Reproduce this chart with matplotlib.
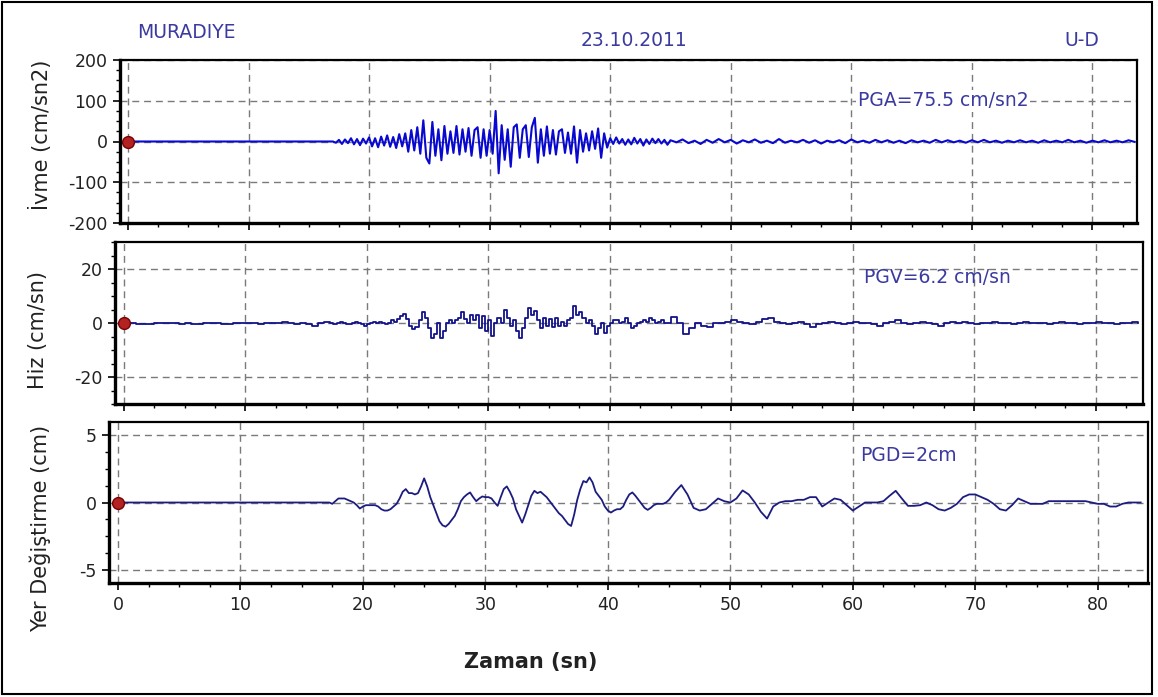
import matplotlib
matplotlib.use("Agg")
import matplotlib.pyplot as plt
import numpy as np
from matplotlib.patches import Rectangle
from matplotlib.ticker import MultipleLocator

# station info
station = "MURADIYE"
date = "23.10.2011"
component = "U-D"

# acceleration (cm/sn2), 17.0-44.75 s every 0.25 s
acc_fine = [0, -3, 4, -6, 5, -4, 8, -7, 6, -9, 7, -5,
            10, -12, 8, -14, 12, -10, 15, -13, 11, -16, 18, -12,
            20, -25, 28, -22, 35, -30, 52, -40, -54, 48, -35, 30,
            -46, 38, -30, 25, -28, 38, -32, 30, -25, 33, -35, 28,
            35, -40, 30, -35, 28, -30, 75, -78, 40, -45, 30, -62,
            35, 42, -40, 30, 40, -38, 35, 58, -52, 30, -35, 37,
            -30, 28, -32, 25, 30, -28, 22, -30, 37, -52, 28, -25,
            20, -22, 25, -18, 32, -40, 20, -15, 8, -6, 10, -5,
            6, -8, 5, -7, 9, -5, 6, -10, 5, -6, 7, -4,
            6, -5, 4, -8]
# acceleration, 45.0-83.5 s every 0.5 s
acc_coarse = [3, -2, 5, -4, 2, -6, 4, -3, 6, -2,
              4, -5, 3, -2, 5, -3, 2, -4, 6, -3,
              2, -2, 4, -3, 3, -5, 2, -2, 3, -4,
              5, -2, 2, -3, 4, -2, 3, -3, 2, -4,
              3, -2, 2, -3, 4, -2, 3, -2, 2, -3,
              3, -2, 4, -2, 2, -3, 2, -2, 3, -2,
              2, -3, 3, -2, 2, -2, 4, -2, 2, -3,
              2, -2, 3, -2, 2, -2, 3, -1]

# velocity (cm/sn), 0-16.5 s every 0.5 s
vel_pre = [0, 0, -0.5, -0.5, -0.5, 0, 0, 0, 0, -0.5,
           0, -0.5, -0.5, 0, 0, 0, -0.5, -0.5, 0, 0,
           0, 0, -0.5, 0, 0, 0, 0.5, 0, -0.5, 0,
           -0.5, -1, 0, 0.5]
vel_fine = [0, -0.5, 0, 0.5, 0, -0.5, -0.5, 0, 0.5, 0, -0.5, -1,
            -0.5, 0, 0.5, 0, 0.5, 0, -0.5, 0, 1, 0.5, 1.5, 2.5,
            3.5, 1.5, -1, -2.4, -1.5, 1, 4.2, 2, -2, -5.5, -4, 0,
            -5.5, -3, 0, 1.2, 0, 1, 2, 3.9, 1.5, 0, 3, 1,
            3, -2, 2.5, -3, 1, -4.8, 0, 2, 0, 4.8, 2, -1,
            1, -3, -5.5, -2, 2, 5.5, 3, 4.5, 1, -2, 2, -1,
            1.5, -1.5, 2, -1, 0.5, -1, 1, 2, 6.3, 3, 4.2, 2,
            0, 1, -1, -4.2, -2, 0, -3.6, -1, 0, 1.2, 1, 0,
            0.5, 1.8, 0, -1.8, -1, 0, 0.5, 1, 0.5, 1.8, 1, 0,
            0.5, 1, 0, 0]
vel_coarse = [2.4, 0, -4.2, -2, 0, -1, -1.5, 0, 0, 0.5, 1.2, 0.5,
              0, -0.5, 0.5, 1.5, 2, 0.5, 0, -0.5, 0, 0.5, -0.5, -1.5,
              -0.5, 0, 0.5, 0, -0.5, 0, 0.5, 0, 0, -0.5, -1, 0,
              0.5, 1, 0, -0.5, 0, 0.5, 0, -0.5, -1, 0, 0.5, 0,
              0.5, 0, -0.5, 0, 0, 0.5, 0, 0, -0.5, 0, 0.5, 0,
              0, 0, -0.5, 0, 0.5, 0, 0, -0.5, 0, 0, 0.5, 0,
              0, -0.5, 0, 0, 0.5, 0]

# displacement (cm)
dis_fine = [0, 0, -0.1, 0.1, 0.3, 0.3, 0.3, 0.2, 0.1, 0, -0.2, -0.45,
            -0.3, -0.2, -0.2, -0.2, -0.2, -0.3, -0.5, -0.6, -0.6, -0.5, -0.3, -0.1,
            0.3, 0.8, 1.0, 0.7, 0.7, 0.6, 0.7, 1.2, 1.8, 1.2, 0.4, -0.2,
            -0.8, -1.4, -1.7, -1.8, -1.6, -1.3, -1.0, -0.5, 0.1, 0.4, 0.6, 0.75,
            0.4, 0.1, 0.3, 0.45, 0.4, 0.4, 0.3, 0.0, -0.25, 0.4, 1.0, 1.2,
            0.8, 0.3, -0.5, -1.0, -1.5, -0.9, -0.2, 0.5, 0.87, 0.7, 0.8, 0.6,
            0.4, 0.1, -0.2, -0.5, -0.8, -1.0, -1.3, -1.6, -1.75, -0.9, 0.2, 1.0,
            1.6, 1.5, 1.87, 1.5, 0.8, 0.5, 0.2, -0.3, -0.6, -0.75, -0.6, -0.5,
            -0.5, -0.3, 0.2, 0.6, 0.75, 0.5, 0.2, -0.1, -0.4, -0.55, -0.4, -0.2,
            -0.1, -0.1, -0.1, 0.0]
dis_coarse = [0.2, 0.8, 1.3, 0.6, -0.4, -0.6, -0.5, -0.1, 0.3, 0.1, 0.0, 0.3,
              0.9, 0.6, 0.0, -0.7, -1.2, -0.3, 0.0, 0.1, 0.1, 0.2, 0.2, 0.4,
              0.4, -0.3, 0.0, 0.3, 0.2, -0.2, -0.6, -0.3, 0.0, 0.0, 0.0, 0.1,
              0.5, 0.87, 0.3, -0.25, -0.25, -0.2, 0.0, -0.2, -0.5, -0.6, -0.4, -0.1,
              0.4, 0.6, 0.6, 0.4, 0.2, -0.1, -0.5, -0.6, -0.2, 0.3, 0.1, -0.1,
              -0.1, -0.1, 0.1, 0.1, 0.1, 0.1, 0.1, 0.1, 0.1, 0.0, -0.1, -0.1,
              -0.3, -0.3, -0.1, 0.0, 0.0, 0.0]

peaks = ["PGA=75.5 cm/sn2", "PGV=6.2 cm/sn", "PGD=2cm"]
ylabels = ["İvme (cm/sn2)", "Hiz (cm/sn)", "Yer Değiştirme (cm)"]

# time axes
t_fine = 17 + 0.25 * np.arange(len(acc_fine))
t_coarse = 45 + 0.5 * np.arange(len(acc_coarse))
t_pre = 0.5 * np.arange(len(vel_pre))

t_acc = np.concatenate([[0], t_fine, t_coarse])
acc = np.concatenate([[0], acc_fine, acc_coarse])
t_vel = np.concatenate([t_pre, t_fine, t_coarse])
vel = np.concatenate([vel_pre, vel_fine, vel_coarse])
t_dis = np.concatenate([[0], t_fine, t_coarse])
dis = np.concatenate([[0], dis_fine, dis_coarse])

plt.rcParams['font.family'] = ['DejaVu Sans']
plt.rcParams['axes.unicode_minus'] = False

W, H = 1158, 697
fig = plt.figure(figsize=(W / 100, H / 100), dpi=100)

def px_axes(left, top, right, bottom):
    return fig.add_axes([left / W, 1 - bottom / H, (right - left) / W, (bottom - top) / H])

ax1 = px_axes(120, 60, 1137, 223)
ax2 = px_axes(115, 242, 1143, 404)
ax3 = px_axes(109, 422, 1148, 583)

ax1.plot(t_acc, acc, color='#0808d0', lw=1.5)
ax2.plot(t_vel, vel, color='#12128a', lw=1.3, drawstyle='steps-post')
ax3.plot(t_dis, dis, color='#1c1c80', lw=1.3)

settings = [
    (ax1, (-0.66, 83.7), (-200, 200), [-200, -100, 0, 100, 200], 25),
    (ax2, (-0.74, 83.9), (-30, 30), [-20, 0, 20], 5),
    (ax3, (-0.73, 84.1), (-6, 6), [-5, 0, 5], 1.25),
]
for ax, xl, yl, yt, ymin in settings:
    ax.set_xlim(*xl)
    ax.set_ylim(*yl)
    ax.set_yticks(yt)
    ax.set_xticks(np.arange(0, 81, 10))
    ax.xaxis.set_minor_locator(MultipleLocator(2.5))
    ax.yaxis.set_minor_locator(MultipleLocator(ymin))
    ax.grid(True, which='major', ls=(0, (5, 3.5)), color='#7a7a7a', lw=1.0)
    ax.set_axisbelow(True)
    ax.tick_params(which='major', direction='out', length=5, width=1.2,
                   labelsize=12.5, labelcolor='#222222', pad=4)
    ax.tick_params(which='minor', direction='out', length=3, width=1.0)
    ax.spines['left'].set_linewidth(2.4)
    ax.spines['bottom'].set_linewidth(2.4)
    ax.spines['top'].set_linewidth(1.6)
    ax.spines['right'].set_linewidth(1.6)
    ax.plot([0], [0], marker='o', ms=8.5, color='#b22222', mec='#7a0000', zorder=5)

ax1.tick_params(labelbottom=False)
ax2.tick_params(labelbottom=False)

# peak value labels
txt_color = '#3a3aa0'
ax1.text(67.6, 100, peaks[0], ha='center', va='center', fontsize=13.5, color=txt_color,
         bbox=dict(facecolor='white', edgecolor='none', pad=1))
ax2.text(67.0, 17, peaks[1], ha='center', va='center', fontsize=13.5, color=txt_color)
ax3.text(64.5, 3.5, peaks[2], ha='center', va='center', fontsize=13.5, color=txt_color)

# header texts
fig.text(186 / W, 1 - 32 / H, station, ha='center', va='center', fontsize=13.5, color=txt_color)
fig.text(634 / W, 1 - 40 / H, date, ha='center', va='center', fontsize=13.5, color=txt_color)
fig.text(1082 / W, 1 - 41 / H, component, ha='center', va='center', fontsize=13.5, color=txt_color)

# axis labels
fig.text(41 / W, 1 - 135 / H, ylabels[0], rotation=90, ha='center', va='center', fontsize=15, color='#222222')
fig.text(38 / W, 1 - 330 / H, ylabels[1], rotation=90, ha='center', va='center', fontsize=15, color='#222222')
fig.text(40 / W, 1 - 528 / H, ylabels[2], rotation=90, ha='center', va='center', fontsize=15, color='#222222')
fig.text(531 / W, 1 - 662 / H, "Zaman (sn)", ha='center', va='center', fontsize=15,
         fontweight='bold', color='#222222')

# outer frame
fig.patches.append(Rectangle((2 / W, 3 / H), 1150 / W, 692 / H, transform=fig.transFigure,
                             fill=False, edgecolor='black', lw=1.5))

fig.savefig("out.png", dpi=100)
